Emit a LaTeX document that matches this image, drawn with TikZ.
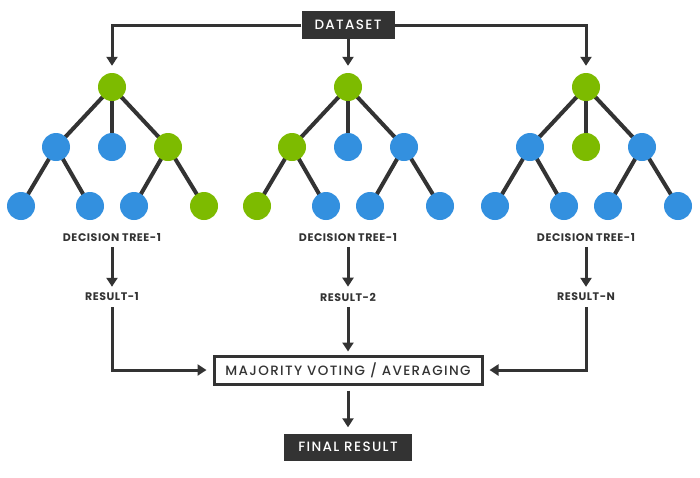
\documentclass[tikz,border=0pt]{standalone}
\usepackage{fontspec}
\setmainfont{Poppins}
\newfontfamily\medfont{Poppins Medium}
\usetikzlibrary{arrows.meta,positioning}

\definecolor{leafgreen}{HTML}{7DBB00}
\definecolor{leafblue}{HTML}{3390DF}
\definecolor{darkline}{HTML}{333333}

\tikzset{
  treenode/.style={circle, minimum size=28pt, inner sep=0pt},
  edge/.style={draw=darkline, line width=4pt},
  arr/.style={draw=darkline, line width=3pt, -{Triangle[length=9pt,width=11pt]}},
  boxfont/.style={font=\medfont\fontsize{13.5}{15}\selectfont\addfontfeatures{LetterSpace=10}},
  darkbox/.style={fill=darkline, text=white, inner sep=0pt, minimum height=28pt, boxfont},
  tag/.style={text=darkline, inner sep=1pt,
    font=\bfseries\fontsize{11}{12}\selectfont\addfontfeatures{LetterSpace=5}},
}

\begin{document}
\begin{tikzpicture}[x=1pt,y=-1pt]
\useasboundingbox (0,0) rectangle (700,477);

% Dataset on top:
\node[darkbox, minimum width=93pt] (data) at (348,25) {DATASET};

% Three trees: number / root x / colours of root, middle row, bottom row
\foreach \t/\rx/\ca/\cb/\cc/\cd/\ce/\cf/\cg/\ch in {%
    1/112/leafgreen/leafblue/leafblue/leafgreen/leafblue/leafblue/leafblue/leafgreen,
    2/348/leafgreen/leafgreen/leafblue/leafblue/leafgreen/leafblue/leafblue/leafblue,
    3/586/leafgreen/leafblue/leafgreen/leafblue/leafblue/leafblue/leafblue/leafblue}{
  % Edges first, nodes on top
  \draw[edge] (\rx,87) -- (\rx-56,147);
  \draw[edge] (\rx,87) -- (\rx,147);
  \draw[edge] (\rx,87) -- (\rx+56,147);
  \draw[edge] (\rx-56,147) -- (\rx-91,206);
  \draw[edge] (\rx-56,147) -- (\rx-22,206);
  \draw[edge] (\rx+56,147) -- (\rx+22,206);
  \draw[edge] (\rx+56,147) -- (\rx+92,206);
  \node[treenode, fill=\ca] (r\t) at (\rx,87) {};
  \node[treenode, fill=\cb] (a\t) at (\rx-56,147) {};
  \node[treenode, fill=\cc] (b\t) at (\rx,147) {};
  \node[treenode, fill=\cd] (c\t) at (\rx+56,147) {};
  \node[treenode, fill=\ce] (d\t) at (\rx-91,206) {};
  \node[treenode, fill=\cf] (e\t) at (\rx-22,206) {};
  \node[treenode, fill=\cg] (f\t) at (\rx+22,206) {};
  \node[treenode, fill=\ch] (g\t) at (\rx+92,206) {};
  \node[tag] (dt\t) at (\rx,238) {DECISION TREE-1};
}

% Results:
\node[tag] (res1) at (112,297) {RESULT-1};
\node[tag] (res2) at (348,297) {RESULT-2};
\node[tag] (res3) at (586,297) {RESULT-N};

% Voting and final result:
\node[draw=darkline, line width=3pt, fill=white, minimum width=268pt, minimum height=28pt,
  inner sep=0pt, text=darkline, boxfont] (vote) at (348,370) {MAJORITY VOTING / AVERAGING};
\node[darkbox, minimum width=128pt, minimum height=27pt] (final) at (348,447) {FINAL RESULT};

% Arrows from the dataset:
\draw[arr, shorten >=7pt] (data.west) -| (r1.north);
\draw[arr, shorten >=7pt] (data.east) -| (r3.north);
\draw[arr, shorten >=7pt] (data.south) -- (r2.north);

% Arrows down to the results:
\foreach \t in {1,2,3}{
  \draw[arr, shorten <=4pt, shorten >=5pt] (dt\t.south) -- (res\t.north);
}
\draw[arr, shorten <=5pt, shorten >=6pt] (res1.south) |- (vote.west);
\draw[arr, shorten <=5pt, shorten >=6pt] (res3.south) |- (vote.east);
\draw[arr, shorten <=5pt, shorten >=3pt] (res2.south) -- (vote.north);
\draw[arr, shorten <=5pt, shorten >=6pt] (vote.south) -- (final.north);

\end{tikzpicture}
\end{document}
